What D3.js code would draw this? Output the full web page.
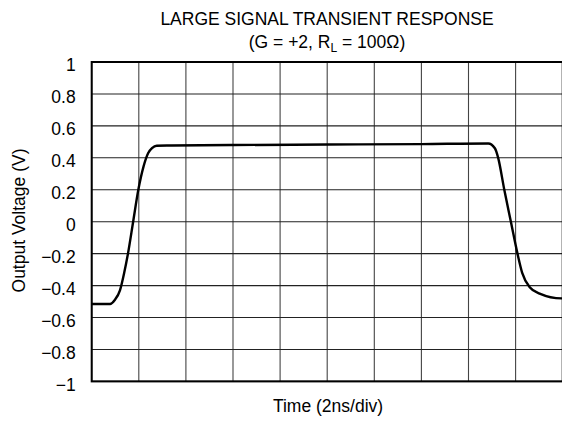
<!DOCTYPE html>
<html lang="en">
<head>
  <meta charset="UTF-8">
  <title>Large Signal Transient Response</title>
  <script src="https://cdn.jsdelivr.net/npm/d3@7/dist/d3.min.js"></script>
<style>
  body { margin: 0; background: #fff; }
  text { font-family: "Liberation Sans", Arial, sans-serif; fill: #000; }
</style>
</head>

<body>
  <script>
    // time in ns (2ns/div), output in volts
    var timeNs = [0, 0.78, 0.98, 1.2, 1.38, 1.54, 1.76, 1.98, 2.2, 2.4, 2.56, 2.76, 3.4,
                  6, 10, 14, 16.84, 17.12, 17.26, 17.52, 17.8, 18.08, 18.28, 18.6, 19.02, 19.95, 20];
    var outputV = [-0.515, -0.515, -0.49, -0.43, -0.32, -0.2, 0, 0.2, 0.345, 0.43, 0.46, 0.476, 0.477,
                   0.48, 0.483, 0.486, 0.49, 0.46, 0.4, 0.2, 0, -0.2, -0.32, -0.41, -0.45, -0.48, -0.48];
    var yTicks = [1, 0.8, 0.6, 0.4, 0.2, 0, -0.2, -0.4, -0.6, -0.8, -1];
    var xTicks = [0, 2, 4, 6, 8, 10, 12, 14, 16, 18, 20];

    var w = 562, h = 421;
    var plotL = 91.7, plotR = 562.7, plotT = 62, plotB = 381.4;

    var x = d3.scaleLinear().domain([0, 20]).range([plotL, plotR]);
    var y = d3.scaleLinear().domain([-1, 1]).range([plotB, plotT]);

    var svg = d3.select('body').append('svg')
      .attr('width', w)
      .attr('height', h);

    // grid
    svg.append('g')
      .selectAll('line')
      .data(xTicks)
      .enter()
      .append('line')
      .attr('x1', d => x(d)).attr('x2', d => x(d))
      .attr('y1', plotT).attr('y2', plotB)
      .attr('stroke', '#444')
      .attr('stroke-width', 1.1);

    svg.append('g')
      .selectAll('line')
      .data(yTicks)
      .enter()
      .append('line')
      .attr('x1', plotL).attr('x2', plotR)
      .attr('y1', d => y(d)).attr('y2', d => y(d))
      .attr('stroke', '#222')
      .attr('stroke-width', 1.1);

    // frame
    svg.append('rect')
      .attr('x', plotL).attr('y', plotT)
      .attr('width', plotR - plotL).attr('height', plotB - plotT)
      .attr('fill', 'none')
      .attr('stroke', '#000')
      .attr('stroke-width', 2);

    // y tick labels (axis drawn by d3, domain and ticks hidden)
    var yAxis = svg.append('g')
      .attr('transform', 'translate(' + plotL + ',0)')
      .call(d3.axisLeft(y).tickValues(yTicks).tickSize(0).tickPadding(16)
        .tickFormat(d => d < 0 ? '\u2212' + Math.abs(d) : String(d)));
    yAxis.select('.domain').remove();
    yAxis.selectAll('text')
      .attr('font-family', '"Liberation Sans", Arial, sans-serif')
      .attr('font-size', '17.5px')
      .attr('fill', '#000')
      .attr('dy', '0.5em');

    // curve
    var line = d3.line()
      .x((d, i) => x(timeNs[i]))
      .y(d => y(d))
      .curve(d3.curveMonotoneX);

    svg.append('path')
      .datum(outputV)
      .attr('d', line)
      .attr('fill', 'none')
      .attr('stroke', '#000')
      .attr('stroke-width', 2.4)
      .attr('stroke-linejoin', 'round');

    // titles
    svg.append('text')
      .attr('x', 327).attr('y', 24.5)
      .attr('text-anchor', 'middle')
      .attr('font-size', '17.5px')
      .text('LARGE SIGNAL TRANSIENT RESPONSE');

    var sub = svg.append('text')
      .attr('x', 327).attr('y', 47.5)
      .attr('text-anchor', 'middle')
      .attr('font-size', '17.5px');
    sub.append('tspan').text('(G = +2, R');
    sub.append('tspan').attr('font-size', '12px').attr('dy', 4).text('L');
    sub.append('tspan').attr('dy', -4).text(' = 100\u03A9)');

    svg.append('text')
      .attr('x', 328).attr('y', 412)
      .attr('text-anchor', 'middle')
      .attr('font-size', '17.5px')
      .text('Time (2ns/div)');

    svg.append('text')
      .attr('transform', 'translate(24.5,220.5) rotate(-90)')
      .attr('text-anchor', 'middle')
      .attr('font-size', '17.5px')
      .text('Output Voltage (V)');
  </script>
</body>
</html>
